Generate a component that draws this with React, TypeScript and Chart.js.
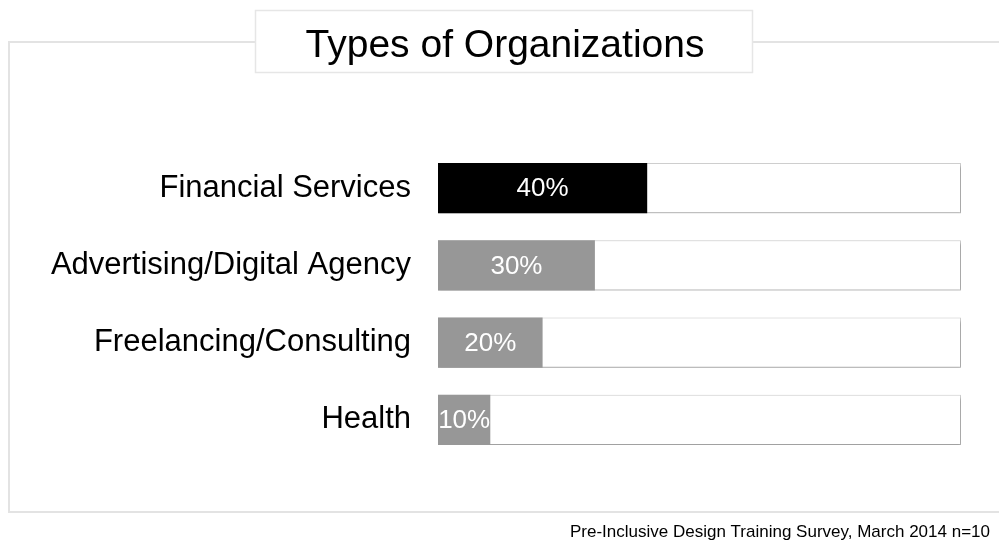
import React, { useEffect, useRef } from "react";
import { Chart, registerables } from "chart.js";

Chart.register(...registerables);

const categories = [
  "Financial Services",
  "Advertising/Digital Agency",
  "Freelancing/Consulting",
  "Health",
];
const values = [40, 30, 20, 10];
const valueLabels = ["40%", "30%", "20%", "10%"];
const totals = [100, 100, 100, 100];
const barColors = ["#000000", "#979797", "#979797", "#979797"];
const titleText = "Types of Organizations";
const footerText = "Pre-Inclusive Design Training Survey, March 2014 n=10";

const FONT = "'Liberation Sans', Arial, Helvetica, sans-serif";

const decorPlugin = {
  id: "decor",
  beforeDraw(chart: any) {
    const ctx = chart.ctx;
    ctx.save();
    ctx.fillStyle = "#ffffff";
    ctx.fillRect(0, 0, chart.width, chart.height);
    // outer frame
    ctx.strokeStyle = "#e3e3e3";
    ctx.lineWidth = 2;
    ctx.strokeRect(9, 42, 1000, 470);
    // title box
    ctx.fillStyle = "#ffffff";
    ctx.fillRect(255, 10, 497, 62);
    ctx.strokeStyle = "#e6e6e6";
    ctx.lineWidth = 1.5;
    ctx.strokeRect(255.5, 10.5, 497, 62);
    ctx.fillStyle = "#000000";
    ctx.font = `39px ${FONT}`;
    ctx.textAlign = "center";
    ctx.textBaseline = "alphabetic";
    ctx.fillText(titleText, 505, 57);
    // footer
    ctx.font = `17px ${FONT}`;
    ctx.textAlign = "right";
    ctx.fillText(footerText, 990, 537);
    ctx.restore();
  },
  beforeDatasetDraw(chart: any, args: any) {
    if (args.index === 1) {
      const ctx = chart.ctx;
      ctx.save();
      ctx.shadowColor = "rgba(0,0,0,0.3)";
      ctx.shadowBlur = 3;
      ctx.shadowOffsetX = 1;
      ctx.shadowOffsetY = 2;
    }
  },
  afterDatasetDraw(chart: any, args: any) {
    if (args.index === 1) {
      chart.ctx.restore();
    }
  },
  afterDatasetsDraw(chart: any) {
    const ctx = chart.ctx;
    const meta = chart.getDatasetMeta(0);
    ctx.save();
    ctx.fillStyle = "#ffffff";
    ctx.font = `26px ${FONT}`;
    ctx.textAlign = "center";
    ctx.textBaseline = "middle";
    meta.data.forEach((bar: any, i: number) => {
      const cx = (bar.x + bar.base) / 2;
      ctx.fillText(valueLabels[i], cx, bar.y + 1);
    });
    ctx.restore();
  },
};

export default function App() {
  const ref = useRef<HTMLCanvasElement>(null);

  useEffect(() => {
    if (!ref.current) return;
    const chart = new Chart(ref.current, {
      type: "bar",
      data: {
        labels: categories,
        datasets: [
          {
            data: values,
            backgroundColor: barColors,
            borderWidth: 0,
            grouped: false,
            order: 0,
          } as any,
          {
            data: totals,
            backgroundColor: "#ffffff",
            borderColor: "#cfcfcf",
            borderWidth: 1,
            grouped: false,
            order: 1,
          } as any,
        ],
      },
      options: {
        indexAxis: "y",
        animation: false,
        responsive: false,
        maintainAspectRatio: false,
        layout: { padding: { left: 0, right: 38, top: 149.5, bottom: 85.5 } },
        datasets: { bar: { categoryPercentage: 1, barPercentage: 0.65 } },
        plugins: {
          legend: { display: false },
          title: { display: false },
          tooltip: { enabled: false },
        },
        scales: {
          x: { display: false, min: 0, max: 100 },
          y: {
            grid: { display: false },
            border: { display: false },
            ticks: {
              color: "#000000",
              padding: 19,
              font: { family: FONT, size: 31 },
            },
            afterFit(scale: any) {
              scale.width = 438;
            },
          },
        },
      } as any,
      plugins: [decorPlugin],
    });
    return () => chart.destroy();
  }, []);

  return (
    <div style={{ position: "absolute", left: 0, top: 0, width: 999, height: 544 }}>
      <canvas ref={ref} width={999} height={544} style={{ display: "block" }} />
    </div>
  );
}
